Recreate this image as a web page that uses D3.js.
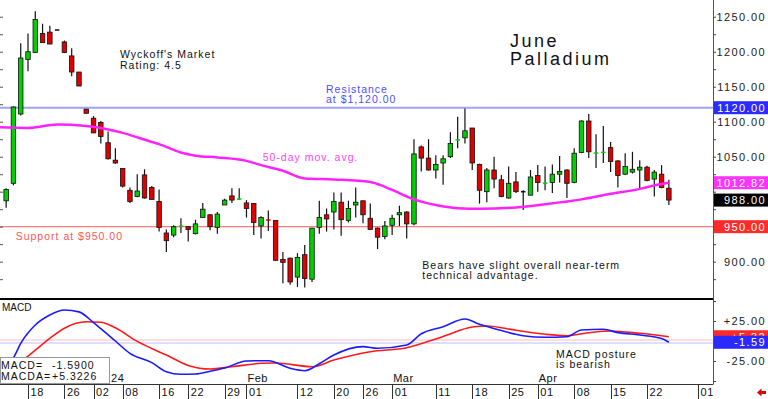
<!doctype html>
<html>
  <head>
    <meta charset="utf-8">
    <script src="https://cdnjs.cloudflare.com/ajax/libs/d3/7.8.5/d3.min.js"></script>
    <style>
      body { margin: 0; background: #fff; }
      svg { display: block; font-family: "Liberation Sans", Arial, sans-serif; }
    </style>
  </head>
  <body>
    <svg id="chart" width="768" height="399"></svg>
    <script>
      // daily bars, index 0 = Dec 18 2023 (first bar shown is Dec 13)
      var firstIdx = -3;
      var opens = [987,1012,1111,1189,
        1199,1226,1228,1231,1214,1194,1171,1118,1105,1099,
        1070,1045,1033,1002,993,1024,1006,986,941,938,
        950.5,950,940,963,967,949,981,994,989,984,
        983,951,960,959,903,905,878,910,875,949,
        967,971,985,959,981,987,962,948,936,952,
        967,971,954,1064,1048,1031,1041,1050,1073,1077,
        1091,1039,1000,1031,1017,991,1014,1000,995,1023,
        1012,1013,1025,1031,1013,1056,1101,1055,1056,1063,
        1044,1025,1028,1031,1035,1018,1025,1005];
      var highs = [1005,1122,1212,1226,
        1258,1240,1237,1231,1216,1205,1171,1118,1108,1101,
        1086,1062,1033,1006,1025,1032,1008,1003,946,952,
        962,951,960,984,968,971,990,1005,1005,988,
        984,965,973,959,914,906,912,924,948,987,
        976,999,999,987,1006,987,983,949,958,967,
        980,972,1075,1066,1075,1052,1052,1085,1107,1119,
        1091,1040,1034,1050,1024,1036,1028,1002,1031,1038,
        1036,1039,1051,1032,1062,1102,1111,1082,1094,1071,
        1045,1055,1057,1045,1037,1031,1038,1017];
      var lows = [977,1009,1109,1172,
        1199,1213,1211,1231,1198,1165,1151,1112,1084,1069,
        1046,1040,1006,984,992,990,989,943,914,935,
        941,929,939,963,945,940,981,984,988,963,
        938,933,944,901,869,867,864,863,871,940,
        943,946,937,956,963,955,946,918,932,938,
        951,933,952,1029,1030,1019,1010,1048,1062,1069,
        1031,983,985,1005,992,990,998,974,995,1000,
        1002,998,1013,991,1012,1055,1048,1034,1041,1028,
        1006,1024,1026,1005,1015,993,1005,981];
      var closes = [1003,1121,1191,1200,
        1246,1213,1211,1231,1199,1171,1151,1112,1084,1079,
        1047,1041,1008,986,1001,991,989,949,930,950,
        951,946,954,975,950,968,988,988,990,976,
        956,963,959,902,899,871,906,876,948,963,
        961,986,960,976,985,967,946,935,951,962,
        970,954,1054,1048,1031,1039,1047,1069,1075,1087,
        1041,1002,1031,1018,993,1012,1000,1000,1021,1013,
        1012.5,1025,1029,1012,1055,1101,1057,1055.5,1056.5,1043,
        1023,1036,1032,1035,1016,1028,1006,988];

      // 50-day moving average
      var maIdx  = [-4,0,4,8,10,13,17,18,21,23,26,30,32,35,38,42,47,49,51,53,56,59,62,67,71,76,80,84,86,88];
      var maVals = [1092,1091,1096,1094,1091,1084,1071,1068,1056,1051.5,1049,1044,1038,1030,1019,1017.5,1014,1007,998,989,981,976.5,975.5,977.5,982,989,997,1004,1009,1012.82];

      // MACD (blue) and MACD average (red)
      var macdIdx  = [-3,-2,-1,1,3,5,7,9,10,12,14,17,19,21,23,25,27,30,33,36,38,40,42,46,48,52,54,57,60,62,65,68,71,74,76,79,81,84,87,88];
      var macdVals = [-30,-21,-3,20,32.5,38.7,36.4,23,15.5,0,-15.4,-27,-38.4,-41.6,-41.3,-37.8,-33.8,-25,-24.6,-34.1,-37.1,-28.5,-17.5,-7,-9.1,-5,9,17.9,27.5,20.8,13,6.6,4.6,5.4,13.75,14.6,10.5,7.5,3,-1.59];
      var sigIdx  = [-3,0,3,5,8,10,12,15,19,22,25,28,32,34,39,42,47,52,57,61,63,67,71,74,77,80,84,88];
      var sigVals = [-40,-19,3.4,16,24,23.4,16.5,-0.5,-17.5,-30.5,-35,-32.1,-27.9,-27.5,-32.1,-23.75,-13.4,-8.4,5.6,17.5,18.75,13.4,8.4,6.6,10.4,12.5,9.6,5.32];
      var macdGuides = [1.25, -2.5];

      var dateIdx = [0,5,9,13,18,22,27,30,37,42,46,50,56,61,66,70,75,80,85,92];
      var dateLbl = ["18","26","02","08","16","22","29","01","12","20","26","01","11","18","25","01","08","15","22","01"];
      // "Jan" sits under the MACD readout box, only the year shows
      var monthIdx = [11,30,50,70];
      var monthLbl = ["24","Feb","Mar","Apr"];

      var resistance = 1120, support = 950;
      var lastMA = 1012.82, lastClose = 988;
      var lastMacd = -1.59, lastSig = 5.32;
      var macdText = "-1.5900", sigText = "+5.3226";

      var svg = d3.select("#chart");
      var plotR = 713;
      var x  = d3.scaleLinear().domain([0, 92]).range([28, 698]);
      var y  = d3.scaleLinear().domain([848.1, 1273.9]).range([298, 0]);
      var ym = d3.scaleLinear().domain([-53.75, 51.25]).range([384, 300]);
      var fmt2 = function(v) { return (v < 0 ? "-" : "") + Math.abs(v).toFixed(2); };

      // resistance / support lines
      svg.append("line").attr("x1", 0).attr("x2", plotR)
        .attr("y1", y(resistance)).attr("y2", y(resistance))
        .attr("stroke", "#a0a0ff").attr("stroke-width", 2);
      svg.append("line").attr("x1", 0).attr("x2", plotR)
        .attr("y1", y(support)).attr("y2", y(support))
        .attr("stroke", "#ff7a7a").attr("stroke-width", 1.3);

      // candles
      var candles = opens.map(function(o, k) {
        return { i: firstIdx + k, o: o, h: highs[k], l: lows[k], c: closes[k] };
      });
      var thin = function(d) { return Math.abs(y(d.o) - y(d.c)) < 1.5; };
      var cg = svg.append("g").selectAll("g").data(candles).join("g");
      cg.append("line")
        .attr("x1", d => x(d.i)).attr("x2", d => x(d.i))
        .attr("y1", d => y(d.h)).attr("y2", d => y(d.l))
        .attr("stroke", "#111").attr("stroke-width", 1.2);
      cg.append("rect")
        .attr("x", d => x(d.i) - 2.25).attr("width", 4.5)
        .attr("y", d => thin(d) ? y((d.o + d.c) / 2) - 0.75 : y(Math.max(d.o, d.c)))
        .attr("height", d => thin(d) ? 1.5 : Math.abs(y(d.o) - y(d.c)))
        .attr("fill", d => d.c > d.o ? "#00d000" : d.c < d.o ? "#e00000" : "#111")
        .attr("stroke", d => thin(d) ? "none" : "#111")
        .attr("stroke-width", 0.8);

      // 50-day average
      svg.append("path")
        .datum(maIdx.map((v, k) => [v, maVals[k]]))
        .attr("fill", "none").attr("stroke", "#ff22ff").attr("stroke-width", 2.5)
        .attr("d", d3.line().x(d => x(d[0])).y(d => y(d[1])).curve(d3.curveMonotoneX));

      // panel frame
      svg.append("line").attr("x1", 0).attr("x2", plotR).attr("y1", 299).attr("y2", 299)
        .attr("stroke", "#000").attr("stroke-width", 2);
      svg.append("line").attr("x1", 0).attr("x2", plotR).attr("y1", 384.5).attr("y2", 384.5)
        .attr("stroke", "#333");
      svg.append("line").attr("x1", plotR + 0.5).attr("x2", plotR + 0.5).attr("y1", 0).attr("y2", 384.5)
        .attr("stroke", "#555");

      // left minor ticks
      var gl = svg.append("g").call(d3.axisLeft(y).tickValues(d3.range(875, 1275, 25)).tickSize(-3).tickFormat(""));
      gl.select(".domain").remove();
      gl.selectAll("line").attr("stroke", "#555");

      // right price axis
      var markVals = [resistance, lastMA, lastClose, support];
      var markCols = ["#2b2bff", "#ff33ff", "#000", "#ff2b2b"];
      var gy = svg.append("g").attr("transform", "translate(" + plotR + ",0)")
        .call(d3.axisRight(y).tickValues(d3.range(875, 1275, 25)).tickSize(3).tickPadding(0)
          .tickFormat(d => d % 50 === 0 && !markVals.some(m => Math.abs(y(m) - y(d)) < 10) ? fmt2(d) : ""));
      gy.select(".domain").remove();
      gy.selectAll("line").attr("stroke", "#444");
      gy.selectAll("text").attr("x", 766 - plotR).attr("text-anchor", "end")
        .attr("font-size", 11).attr("letter-spacing", 1.4).attr("fill", "#222")
        .attr("font-family", "Liberation Sans, Arial, sans-serif");

      markVals.forEach(function(v, k) {
        svg.append("rect").attr("x", plotR + 1).attr("width", 54)
          .attr("y", y(v) - 6.5).attr("height", 13).attr("fill", markCols[k]);
        svg.append("text").attr("x", 766).attr("y", y(v) + 4).attr("text-anchor", "end")
          .attr("font-size", 11).attr("letter-spacing", 1.4).attr("fill", "#fff")
          .text(v.toFixed(2));
      });

      // MACD panel
      macdGuides.forEach(function(v, k) {
        svg.append("line").attr("x1", 0).attr("x2", plotR).attr("y1", ym(v)).attr("y2", ym(v))
          .attr("stroke", k === 0 ? "#ffbcbc" : "#bcbcff").attr("stroke-width", 1);
      });
      var ml = d3.line().x(d => x(d[0])).y(d => ym(d[1])).curve(d3.curveMonotoneX);
      svg.append("path").datum(sigIdx.map((v, k) => [v, sigVals[k]]))
        .attr("fill", "none").attr("stroke", "#ff1a1a").attr("stroke-width", 1.6).attr("d", ml);
      svg.append("path").datum(macdIdx.map((v, k) => [v, macdVals[k]]))
        .attr("fill", "none").attr("stroke", "#1a1aff").attr("stroke-width", 1.6).attr("d", ml);

      var gm = svg.append("g").attr("transform", "translate(" + plotR + ",0)")
        .call(d3.axisRight(ym).tickValues([-50, -25, 0, 25, 50]).tickSize(3).tickPadding(0)
          .tickFormat(d => Math.abs(d) === 25 ? (d > 0 ? "+" : "") + fmt2(d) : ""));
      gm.select(".domain").remove();
      gm.selectAll("line").attr("stroke", "#444");
      gm.selectAll("text").attr("x", 766 - plotR).attr("text-anchor", "end")
        .attr("font-size", 11).attr("letter-spacing", 1.4).attr("fill", "#222")
        .attr("font-family", "Liberation Sans, Arial, sans-serif");

      [[lastSig, "#ff2a2a", "+" + lastSig.toFixed(2)], [lastMacd, "#2a2aff", fmt2(lastMacd)]].forEach(function(m) {
        svg.append("rect").attr("x", plotR + 1).attr("width", 54)
          .attr("y", ym(m[0]) - 6.5).attr("height", 13).attr("fill", m[1]);
        svg.append("text").attr("x", 766).attr("y", ym(m[0]) + 4).attr("text-anchor", "end")
          .attr("font-size", 11).attr("letter-spacing", 1.4).attr("fill", "#fff").text(m[2]);
      });

      svg.append("text").attr("x", 2).attr("y", 311).attr("font-size", 10).attr("fill", "#111").text("MACD");

      // date axis
      var gd = svg.append("g");
      gd.selectAll("line").data(dateIdx).join("line")
        .attr("x1", d => Math.round(x(d)) + 0.5).attr("x2", d => Math.round(x(d)) + 0.5)
        .attr("y1", 384.5).attr("y2", 399).attr("stroke", "#333");
      gd.selectAll("text").data(dateIdx).join("text")
        .attr("x", d => x(d) + 2.5).attr("y", 395.7)
        .attr("font-size", 11).attr("letter-spacing", 0.6).attr("fill", "#111")
        .text((d, k) => dateLbl[k]);
      svg.append("g").selectAll("text").data(monthIdx).join("text")
        .attr("x", (d, k) => x(d) + (k === 0 ? 3 : 1)).attr("y", 382)
        .attr("font-size", 11).attr("letter-spacing", 0.5).attr("fill", "#111")
        .text((d, k) => monthLbl[k]);

      // MACD readout box
      svg.append("rect").attr("x", 0.5).attr("y", 357.5).attr("width", 109).attr("height", 26)
        .attr("fill", "#fff").attr("stroke", "#999");
      [["MACD=", macdText, 369], ["MACDA=", sigText, 380]].forEach(function(r) {
        svg.append("text").attr("x", 1).attr("y", r[2]).attr("font-size", 10.5)
          .attr("letter-spacing", 1).attr("fill", "#111").text(r[0]);
        svg.append("text").attr("x", 52).attr("y", r[2]).attr("font-size", 10.5)
          .attr("letter-spacing", 1).attr("fill", "#111").text(r[1]);
      });

      // notes
      var notes = [
        ["Wyckoff's Market", 120, 58.3, "#111"],
        ["Rating: 4.5", 120, 68.7, "#111"],
        ["Resistance", 326, 92.7, "#4d4dff"],
        ["at $1,120.00", 326, 102.7, "#4d4dff"],
        ["50-day mov. avg.", 262.7, 160.7, "#ff44ff"],
        ["Support at $950.00", 15.7, 240, "#ff5555"],
        ["Bears have slight overall near-term", 422.3, 269.3, "#111"],
        ["technical advantage.", 422.3, 279.3, "#111"],
        ["MACD posture", 556, 357.7, "#111"],
        ["is bearish", 556, 367.7, "#111"]
      ];
      svg.append("g").selectAll("text").data(notes).join("text")
        .attr("x", d => d[1]).attr("y", d => d[2]).attr("fill", d => d[3])
        .attr("font-size", 10.5).attr("letter-spacing", 1).text(d => d[0]);

      svg.append("text").attr("x", 510).attr("y", 46.7).attr("font-size", 18)
        .attr("letter-spacing", 2.5).attr("fill", "#111").text("June");
      svg.append("text").attr("x", 510).attr("y", 65).attr("font-size", 18)
        .attr("letter-spacing", 2.5).attr("fill", "#111").text("Palladium");

      // little red arrow, bottom right
      svg.append("path").attr("d", "M766,391 h-4.5 v-2.5 l-4.5,4 l4.5,4 v-2.5 h4.5 z").attr("fill", "#e00000");
    </script>
  </body>
</html>
